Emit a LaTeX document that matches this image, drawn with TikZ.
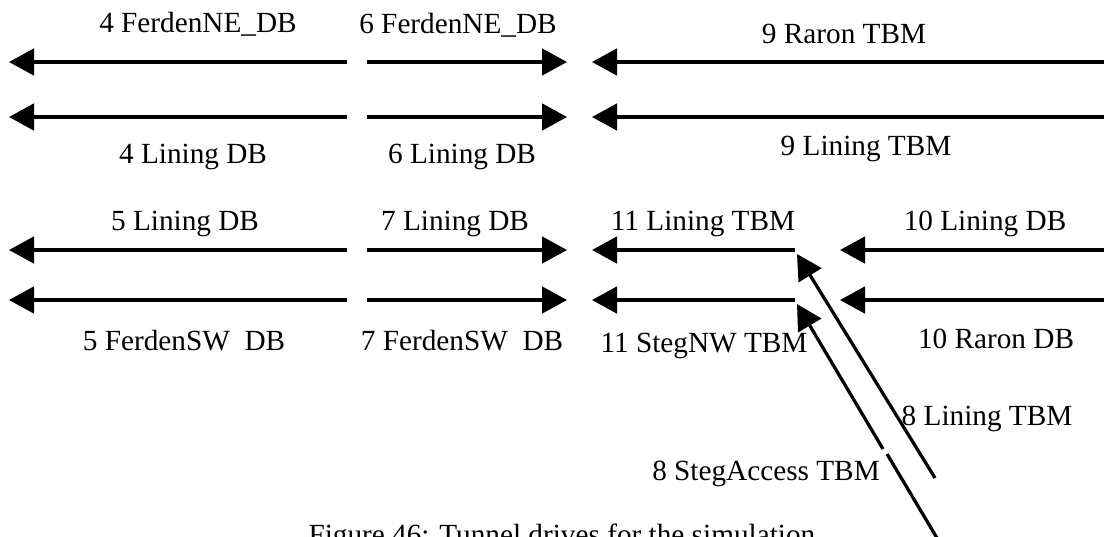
\documentclass[tikz,border=0pt]{standalone}
\usepackage{fontspec}
\setmainfont{Liberation Serif}
\usetikzlibrary{arrows.meta}

\begin{document}
\begin{tikzpicture}[x=0.4pt, y=-0.4pt,
  every node/.style={font=\fontsize{11.7}{14}\selectfont, inner sep=0pt},
  lbl/.style={anchor=base},
  drive/.style={line width=1.3pt, -{Triangle[length=10pt,width=10.6pt]}},
  plain/.style={line width=1.3pt}]
\useasboundingbox (0,0) rectangle (1104,536);
\clip (0,0) rectangle (1104,536);
% end points of the drives
\coordinate (d4ns) at (347,62);   \coordinate (d4ne) at (9,62);
\coordinate (d6ns) at (367,62);   \coordinate (d6ne) at (567,62);
\coordinate (d9rs) at (1104,62);  \coordinate (d9re) at (592,62);
\coordinate (d4ls) at (347,117);  \coordinate (d4le) at (9,117);
\coordinate (d6ls) at (367,117);  \coordinate (d6le) at (567,117);
\coordinate (d9ls) at (1104,117); \coordinate (d9le) at (592,117);
\coordinate (d5ls) at (347,250);  \coordinate (d5le) at (9,250);
\coordinate (d7ls) at (367,250);  \coordinate (d7le) at (567,250);
\coordinate (d11ls) at (795,250); \coordinate (d11le) at (592,250);
\coordinate (d10ls) at (1104,250);\coordinate (d10le) at (840,250);
\coordinate (d5fs) at (347,300);  \coordinate (d5fe) at (9,300);
\coordinate (d7fs) at (367,300);  \coordinate (d7fe) at (567,300);
\coordinate (d11ss) at (795,300); \coordinate (d11se) at (592,300);
\coordinate (d10rs) at (1104,300);\coordinate (d10re) at (840,300);
\coordinate (d8ls) at (935,478);  \coordinate (d8le) at (797,254);
\coordinate (d8ss) at (883,449);  \coordinate (d8se) at (797,304);
\coordinate (d8sb) at (887,454);  \coordinate (d8sa) at (937,538);
% labels
\node[lbl] (l4n) at (198,32) {4 FerdenNE\_DB};
\node[lbl] (l6n) at (458,33) {6 FerdenNE\_DB};
\node[lbl] (l9r) at (844,43) {9 Raron TBM};
\node[lbl] (l4l) at (193,163) {4 Lining DB};
\node[lbl] (l6l) at (462,163) {6 Lining DB};
\node[lbl] (l9l) at (866,155) {9 Lining TBM};
\node[lbl] (l5l) at (185,230) {5 Lining DB};
\node[lbl] (l7l) at (455,230) {7 Lining DB};
\node[lbl] (l11l) at (703,230) {11 Lining TBM};
\node[lbl] (l10l) at (985,230) {10 Lining DB};
\node[lbl] (l5f) at (184,350) {5 FerdenSW~ DB};
\node[lbl] (l7f) at (462,350) {7 FerdenSW~ DB};
\node[lbl] (l11s) at (704,352) {11 StegNW TBM};
\node[lbl] (l10r) at (996,348) {10 Raron DB};
\node[lbl] (l8l) at (987,425) {8 Lining TBM};
\node[lbl] (l8s) at (766,480) {8 StegAccess TBM};
\node[lbl, anchor=base west] (cap) at (308,544) {Figure 46: Tunnel drives for the simulation};
% drives
\draw[drive] (d4ns) -- (d4ne);
\draw[drive] (d6ns) -- (d6ne);
\draw[drive] (d9rs) -- (d9re);
\draw[drive] (d4ls) -- (d4le);
\draw[drive] (d6ls) -- (d6le);
\draw[drive] (d9ls) -- (d9le);
\draw[drive] (d5ls) -- (d5le);
\draw[drive] (d7ls) -- (d7le);
\draw[drive] (d11ls) -- (d11le);
\draw[drive] (d10ls) -- (d10le);
\draw[drive] (d5fs) -- (d5fe);
\draw[drive] (d7fs) -- (d7fe);
\draw[drive] (d11ss) -- (d11se);
\draw[drive] (d10rs) -- (d10re);
\draw[drive] (d8ls) -- (d8le);
\draw[drive] (d8ss) -- (d8se);
\draw[plain] (d8sa) -- (d8sb);
\end{tikzpicture}
\end{document}
